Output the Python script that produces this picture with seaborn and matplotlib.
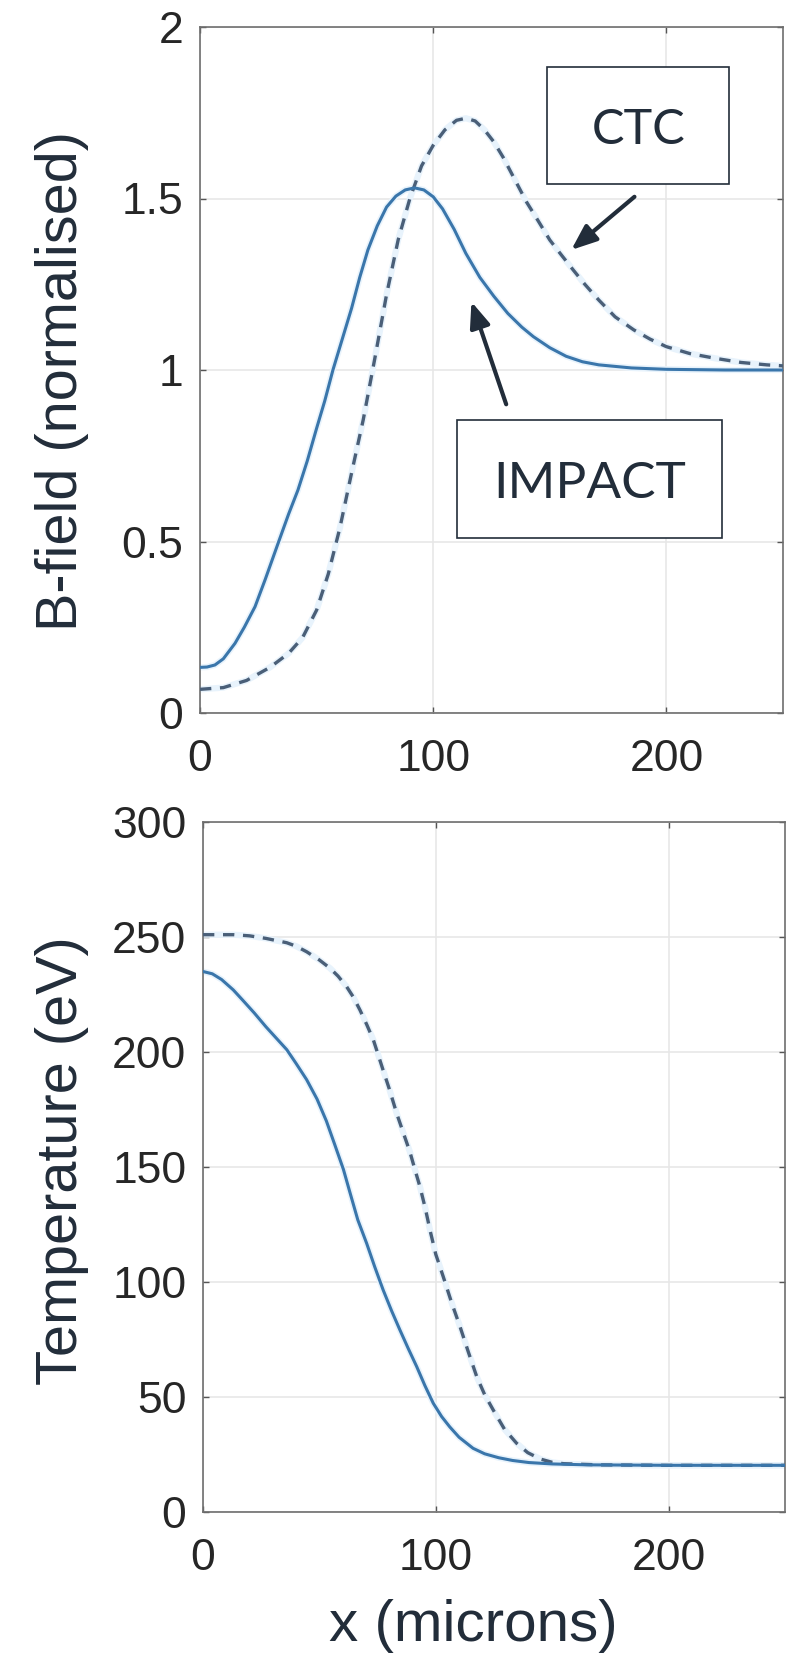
import numpy as np
import pandas as pd
import matplotlib
matplotlib.use("Agg")
import matplotlib.pyplot as plt
from matplotlib.patches import Rectangle
import seaborn as sns

# --- B-field profiles (normalised) ---
b_impact_x = [0, 3, 6.4, 10, 15, 19, 23.6, 28, 33.5, 38, 42, 46, 50, 53.5, 57, 61, 65, 68.5, 72, 76, 80, 84, 88, 92,
              96, 100, 104, 109, 114, 120, 126, 132, 138, 143, 150, 157, 164, 171, 185, 200, 225, 250]
b_impact_y = [0.133, 0.134, 0.14, 0.158, 0.203, 0.25, 0.31, 0.39, 0.495, 0.58, 0.65, 0.735, 0.83, 0.91, 1.0, 1.09,
              1.18, 1.27, 1.35, 1.42, 1.475, 1.507, 1.525, 1.531, 1.525, 1.505, 1.47, 1.41, 1.34, 1.27, 1.215,
              1.165, 1.125, 1.097, 1.065, 1.04, 1.024, 1.015, 1.006, 1.002, 1.0, 1.0]

b_ctc_x = [0, 10, 20, 30, 38, 44, 50, 55, 60, 65, 70, 75, 80, 85, 90, 95, 100, 105, 110, 114, 118, 122, 126, 130,
           135, 140, 145, 150, 155, 160, 165, 171, 178, 186, 193, 200, 210, 221, 232, 243, 250]
b_ctc_y = [0.069, 0.074, 0.095, 0.133, 0.174, 0.22, 0.30, 0.405, 0.54, 0.70, 0.855, 1.035, 1.22, 1.38, 1.50, 1.595,
           1.655, 1.70, 1.728, 1.734, 1.726, 1.70, 1.665, 1.62, 1.555, 1.49, 1.435, 1.379, 1.335, 1.292, 1.25,
           1.204, 1.155, 1.117, 1.09, 1.068, 1.048, 1.034, 1.022, 1.015, 1.012]

# --- Temperature profiles (eV) ---
t_impact_x = [0, 4, 8, 13, 17, 22, 27, 31.5, 36, 40, 44.5, 49, 53, 56.5, 60.3, 63.1, 66.5, 70.3, 73.8, 77.4, 81,
              84.6, 88.2, 91.8, 95.3, 98.9, 102.5, 106, 110, 116, 121, 127, 133, 140, 150, 165, 200, 250]
t_impact_y = [235, 234, 231.5, 227, 222.6, 217, 211, 206, 201, 195, 188, 179.5, 170, 160, 149, 139, 127, 116.8,
              106.5, 96.5, 87.5, 79.1, 71, 63.2, 55, 47.3, 41.5, 37, 32.5, 27.7, 25.3, 23.6, 22.4, 21.5, 20.9,
              20.5, 20.3, 20.3]

t_ctc_x = [0, 13, 20, 27, 36, 40, 44.5, 50, 54.6, 58, 61.7, 64.5, 67.4, 70.3, 73.2, 77.4, 80, 83.2, 86, 88.9, 91,
           93.2, 95.5, 97.5, 100, 103.2, 106.8, 110.4, 114, 117.6, 121, 124.7, 129.5, 134.7, 139.5, 145, 150, 155,
           170, 200, 250]
t_ctc_y = [251, 251, 250.5, 249.4, 247.5, 246, 243.6, 240, 236.4, 233, 228.4, 224, 218.3, 212, 205.2, 192, 184,
           173.3, 165, 156.5, 149, 141.4, 132, 122.6, 112, 102.3, 91, 80.6, 69.5, 58.8, 51, 44.3, 36, 29.9,
           25.8, 23, 21.6, 21, 20.5, 20.3, 20.3]

x_ticks = [0, 100, 200]
x_tick_labels = ["0", "100", "200"]
b_ticks = [0, 0.5, 1, 1.5, 2]
b_tick_labels = ["0", "0.5", "1", "1.5", "2"]
t_ticks = [0, 50, 100, 150, 200, 250, 300]
t_tick_labels = ["0", "50", "100", "150", "200", "250", "300"]

sns.set_theme(style="whitegrid")
plt.rcParams["font.family"] = ["Liberation Sans", "DejaVu Sans"]

SOLID = "#3a76ab"
DASHED = "#4a5f78"
HALO = "#e8f3fc"
INK = "#222d3a"
TICK_TXT = "#262626"
SPINE = "#6e6e6e"
GRID = "#e6e6e6"

fig = plt.figure(figsize=(7.98, 16.54), dpi=100)
ax_b = fig.add_axes([200 / 798, 1 - 713 / 1654, 583 / 798, 686 / 1654])
ax_t = fig.add_axes([203 / 798, 1 - 1512 / 1654, 582 / 798, 690 / 1654])


def draw_profiles(ax, sx, sy, dx, dy):
    solid = pd.DataFrame({"x": sx, "y": sy})
    dashed = pd.DataFrame({"x": dx, "y": dy})
    for df in (solid, dashed):
        sns.lineplot(data=df, x="x", y="y", ax=ax, color=HALO, lw=4.5,
                     sort=False, estimator=None, zorder=2)
    sns.lineplot(data=dashed, x="x", y="y", ax=ax, color=DASHED, lw=2.4,
                 linestyle=(0, (3.4, 2.6)), sort=False, estimator=None, zorder=3)
    sns.lineplot(data=solid, x="x", y="y", ax=ax, color=SOLID, lw=2.2,
                 sort=False, estimator=None, zorder=4)


def style_axes(ax, yticks, ylabels, ylim):
    ax.set_facecolor("white")
    ax.set_xlim(0, 250)
    ax.set_ylim(*ylim)
    ax.set_xticks(x_ticks)
    ax.set_xticklabels(x_tick_labels)
    ax.set_yticks(yticks)
    ax.set_yticklabels(ylabels)
    ax.set_xlabel("")
    ax.set_ylabel("")
    ax.grid(True, color=GRID, lw=1.1)
    ax.set_axisbelow(True)
    for s in ax.spines.values():
        s.set_visible(True)
        s.set_color(SPINE)
        s.set_linewidth(1.2)
    ax.tick_params(axis="both", which="both", direction="in", length=4.5,
                   width=1.0, color="#555555", top=True, right=True,
                   bottom=True, left=True, labelsize=32, labelcolor=TICK_TXT)
    ax.tick_params(axis="x", pad=19)
    ax.tick_params(axis="y", pad=12)


draw_profiles(ax_b, b_impact_x, b_impact_y, b_ctc_x, b_ctc_y)
style_axes(ax_b, b_ticks, b_tick_labels, (0, 2))

draw_profiles(ax_t, t_impact_x, t_impact_y, t_ctc_x, t_ctc_y)
style_axes(ax_t, t_ticks, t_tick_labels, (0, 300))

# Labelled callouts for the two models
arrow_kw = dict(arrowstyle="-|>,head_length=0.55,head_width=0.22", lw=3.0,
                color=INK, mutation_scale=28, shrinkA=0, shrinkB=0)
ax_b.add_patch(Rectangle((149.0, 1.542), 78.0, 0.341, fill=True, facecolor="white",
                         edgecolor=INK, lw=1.2, zorder=6))
ax_b.text(188.0, 1.700, "CTC", ha="center", va="center", fontsize=35,
          color=INK, family=["Lato", "DejaVu Sans"], zorder=7)
ax_b.annotate("", xy=(159.2, 1.35), xytext=(186.3, 1.505),
              arrowprops=arrow_kw, zorder=7)

ax_b.add_patch(Rectangle((110.1, 0.51), 113.9, 0.344, fill=True, facecolor="white",
                         edgecolor=INK, lw=1.2, zorder=6))
ax_b.text(167.0, 0.668, "IMPACT", ha="center", va="center", fontsize=37,
          color=INK, family=["Lato", "DejaVu Sans"], zorder=7)
ax_b.annotate("", xy=(116.4, 1.199), xytext=(131.3, 0.90),
              arrowprops=arrow_kw, zorder=7)

# Axis titles
fig.text(62 / 798, 1 - 381 / 1654, "B-field (normalised)", rotation=90,
         ha="center", va="center", fontsize=41.5, color=INK)
fig.text(62 / 798, 1 - 1161 / 1654, "Temperature (eV)", rotation=90,
         ha="center", va="center", fontsize=41.5, color=INK)
fig.text(473 / 798, 1 - 1641 / 1654, "x (microns)", ha="center", va="baseline",
         fontsize=42, color=INK)

fig.savefig("out.png", dpi=100, facecolor="white")
